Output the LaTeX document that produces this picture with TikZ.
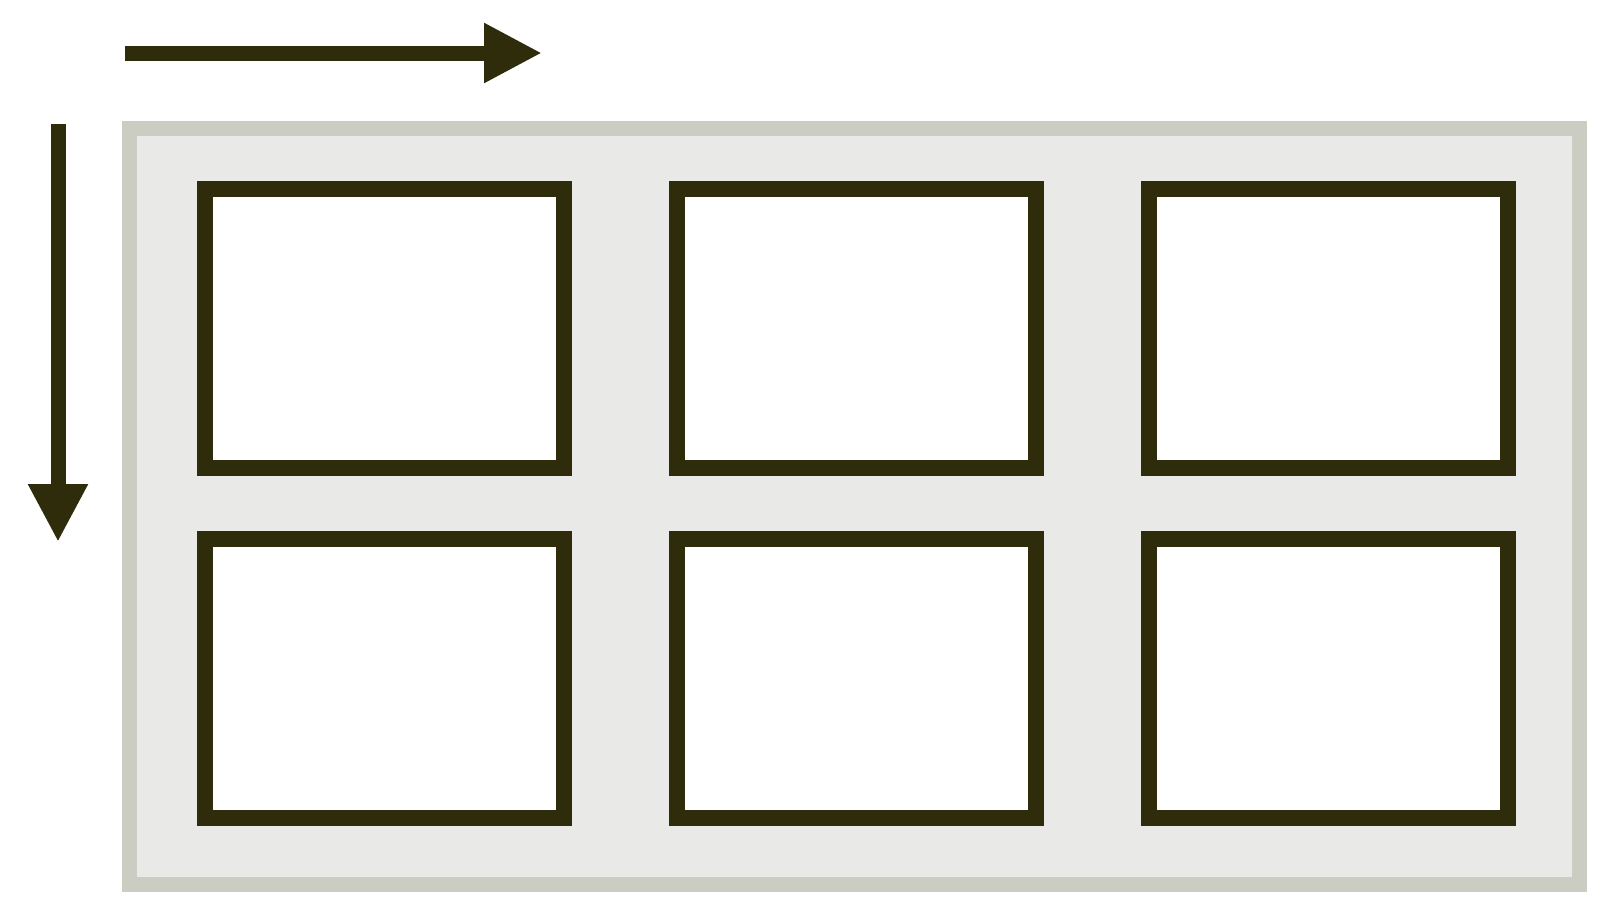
\documentclass[tikz,border=0pt]{standalone}
\usetikzlibrary{arrows.meta}
\definecolor{dark}{RGB}{46,44,10}
\definecolor{frameborder}{RGB}{203,204,194}
\definecolor{framefill}{RGB}{233,233,231}
\begin{document}
\begin{tikzpicture}[x=0.5pt,y=-0.5pt,
  cell/.style={draw=dark,fill=white,line width=8pt,minimum width=179.5pt,minimum height=139.5pt,inner sep=0pt,outer sep=0pt},
  dirarrow/.style={draw=dark,line width=7.5pt,-{Triangle[length=29pt,width=28pt]}}]
\useasboundingbox (0,0) rectangle (1600,900);
\fill[white] (0,0) rectangle (1600,900);
\draw[frameborder,fill=framefill,line width=7.5pt] (129.5,128.5) rectangle (1579.5,884.5);
\node[cell] (c11) at (384.5,328.5) {};
\node[cell] (c12) at (856.5,328.5) {};
\node[cell] (c13) at (1328.5,328.5) {};
\node[cell] (c21) at (384.5,678.5) {};
\node[cell] (c22) at (856.5,678.5) {};
\node[cell] (c23) at (1328.5,678.5) {};
\coordinate (hs) at (125,53);
\coordinate (he) at (542,53);
\coordinate (vs) at (58,124);
\coordinate (ve) at (58,542);
\draw[dirarrow] (hs) -- (he);
\draw[dirarrow] (vs) -- (ve);
\end{tikzpicture}
\end{document}
